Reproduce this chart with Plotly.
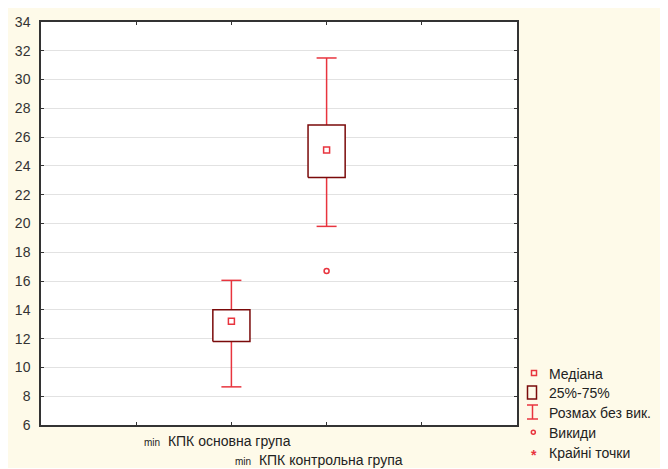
import plotly.graph_objects as go

# ---- data ----
groups = ["КПК основна група", "КПК контрольна група"]
prefix = "min"
positions = [1, 2]
q1 = [11.8, 23.2]
median = [13.2, 25.1]
q3 = [14.0, 26.85]
low_whisker = [8.65, 19.8]
high_whisker = [16.05, 31.5]
outlier_x = [2]
outlier_y = [16.7]
yticks = [6, 8, 10, 12, 14, 16, 18, 20, 22, 24, 26, 28, 30, 32, 34]
legend_labels = ["Медіана", "25%-75%", "Розмах без вик.", "Викиди", "Крайні точки"]

RED = "#e8343e"
DARK = "#7a0a0a"
CREAM = "#fefae9"
OX, OY = 8, 9            # page offset of the figure in the window
W, H = 660, 460
L, R, T, B = 41, 517, 23, 426   # plot area in window pixels

def px(x):
    return (x - L) / (R - L)

def py(y):
    return (B - y) / (B - T)

half_box = 0.195
half_cap = 0.105

fig = go.Figure()

# whiskers
wx, wy = [], []
for p, a, b, lo, hi in zip(positions, q1, q3, low_whisker, high_whisker):
    wx += [p, p, None, p - half_cap, p + half_cap, None, p, p, None, p - half_cap, p + half_cap, None]
    wy += [b, hi, None, hi, hi, None, a, lo, None, lo, lo, None]
fig.add_trace(go.Scatter(x=wx, y=wy, mode="lines", line=dict(color=RED, width=1.5),
                         hoverinfo="skip", showlegend=False))

# boxes
for p, a, b in zip(positions, q1, q3):
    fig.add_trace(go.Scatter(x=[p - half_box, p + half_box, p + half_box, p - half_box, p - half_box],
                             y=[a, a, b, b, a], mode="lines", fill="toself", fillcolor="white",
                             line=dict(color=DARK, width=1.5), hoverinfo="skip", showlegend=False))

# medians
fig.add_trace(go.Scatter(x=positions, y=median, mode="markers",
                         marker=dict(symbol="square-open", size=6, color=RED, line=dict(width=1.5)),
                         showlegend=False))
# outliers
fig.add_trace(go.Scatter(x=outlier_x, y=outlier_y, mode="markers",
                         marker=dict(symbol="circle-open", size=5, color=RED, line=dict(width=1.5)),
                         showlegend=False))

shapes = []
# legend symbols
shapes.append(dict(type="rect", xref="paper", yref="paper", x0=px(531.5), x1=px(536.5),
                   y0=py(376.5), y1=py(371.5), line=dict(color=RED, width=1.5)))
shapes.append(dict(type="rect", xref="paper", yref="paper", x0=px(527.5), x1=px(536.5),
                   y0=py(400), y1=py(387), line=dict(color=DARK, width=1.5)))
shapes.append(dict(type="line", xref="paper", yref="paper", x0=px(532.5), x1=px(532.5),
                   y0=py(420), y1=py(406), line=dict(color=RED, width=1.5)))
shapes.append(dict(type="line", xref="paper", yref="paper", x0=px(527), x1=px(538),
                   y0=py(406), y1=py(406), line=dict(color=RED, width=1.5)))
shapes.append(dict(type="line", xref="paper", yref="paper", x0=px(527), x1=px(538),
                   y0=py(420), y1=py(420), line=dict(color=RED, width=1.5)))
shapes.append(dict(type="circle", xref="paper", yref="paper", x0=px(531.3), x1=px(535.3),
                   y0=py(435.3), y1=py(431.3), line=dict(color=RED, width=1.5)))

annotations = []
leg_y = [375, 394, 414, 434, 454]
for lab, yy in zip(legend_labels, leg_y):
    annotations.append(dict(text=lab, xref="paper", yref="paper", x=px(547), y=py(yy),
                            xanchor="left", yanchor="middle", showarrow=False,
                            font=dict(size=14, color="#222")))
annotations.append(dict(text="<b>*</b>", xref="paper", yref="paper", x=px(533.5), y=py(456),
                        xanchor="center", yanchor="middle", showarrow=False,
                        font=dict(size=14, color=RED)))

lab_x = [142, 233]
lab_y = [442, 461]
for g, xx, yy in zip(groups, lab_x, lab_y):
    annotations.append(dict(text=f"<span style='font-size:10px'>{prefix}</span>  {g}",
                            xref="paper", yref="paper", x=px(xx), y=py(yy),
                            xanchor="left", yanchor="middle", showarrow=False,
                            font=dict(size=14, color="#222")))

fig.update_layout(
    width=W, height=H,
    margin=dict(l=L - OX, r=W + OX - R, t=T - OY, b=H + OY - B, pad=0, autoexpand=False),
    paper_bgcolor=CREAM, plot_bgcolor="white",
    font=dict(family="Liberation Sans, Arial, sans-serif", size=14, color="#333"),
    shapes=shapes, annotations=annotations, showlegend=False,
)
fig.update_xaxes(range=[-1, 4], tickvals=[0, 1, 2, 3], ticktext=["", "", "", ""],
                 ticks="inside", ticklen=3, tickcolor="#333", showgrid=False, zeroline=False,
                 showline=True, linecolor="#333", linewidth=1.5, mirror="ticks", automargin=False)
fig.update_yaxes(range=[6, 34], tickvals=yticks, ticks="inside", ticklen=3, tickcolor="#333",
                 showgrid=True, gridcolor="#e2e2e2", gridwidth=1, zeroline=False,
                 showline=True, linecolor="#333", linewidth=1.5, mirror="ticks", automargin=False,
                 ticklabelstandoff=6, tickfont=dict(size=14, color="#333"))

fig.write_html("out.html")
